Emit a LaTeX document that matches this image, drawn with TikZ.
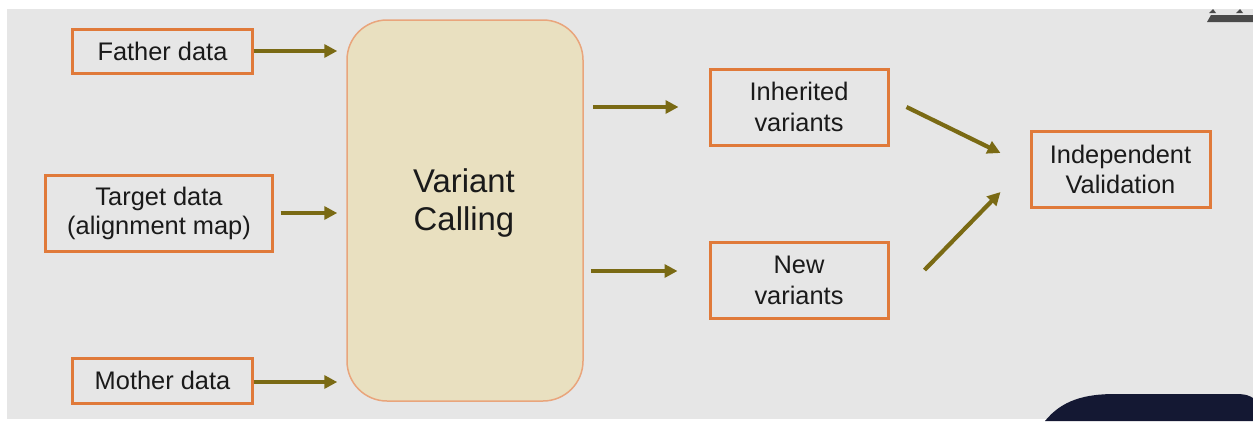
\documentclass[tikz,border=0pt]{standalone}
\usepackage{fontspec}
\setmainfont{Liberation Sans}
\usetikzlibrary{arrows.meta}
\definecolor{bggrey}{HTML}{E6E6E6}
\definecolor{boxline}{HTML}{E07A3A}
\definecolor{callfill}{HTML}{E9E0C0}
\definecolor{callline}{HTML}{E9A57C}
\definecolor{arrowol}{HTML}{7A6A14}
\definecolor{textdark}{HTML}{1A1A1A}
\definecolor{navy}{HTML}{141833}
\definecolor{logogrey}{HTML}{4A4A4A}
\tikzset{
  databox/.style={draw=boxline, line width=3bp, fill=bggrey, inner sep=0pt,
    align=center, text=textdark, font=\fontsize{25.5}{31}\selectfont},
  callbox/.style={draw=callline, line width=1.5bp, fill=callfill,
    rounded corners=40bp, inner sep=0pt},
  flow/.style={draw=arrowol, line width=4.2bp,
    -{Triangle[length=13bp,width=13bp]}},
}
\begin{document}
\begin{tikzpicture}[x=1bp,y=-1bp]
  \useasboundingbox (0,0) rectangle (1253,421);
  % page and slide background
  \fill[white] (0,0) rectangle (1253,421);
  \fill[bggrey] (7,9) rectangle (1253,419);

  % corner logo
  \fill[logogrey] (1207,22) -- (1211,15) -- (1253,15) -- (1253,22) -- cycle;
  \fill[logogrey] (1209,13) -- (1213,9) -- (1216,13) -- cycle;
  \fill[logogrey] (1236,13) -- (1240,9) -- (1243,13) -- cycle;

  % dark shape at the lower right
  \fill[navy] (1045,421) .. controls (1062,400) and (1085,394) .. (1115,394)
    -- (1236,394) .. controls (1246,394) and (1250,396) .. (1253,398)
    -- (1253,421) -- cycle;

  % central step
  \node[callbox, minimum width=236bp, minimum height=381bp] (vc) at (465,210.5) {};
  \node[text=textdark, align=center, inner sep=0pt,
        font=\fontsize{33}{39}\selectfont] (vctext) at (464,203) {Variant\\Calling};

  % inputs
  \node[databox, minimum width=179bp, minimum height=44bp] (father) at (162.5,51) {Father data};
  \node[databox, minimum width=226bp, minimum height=76bp,
        font=\fontsize{25.5}{29}\selectfont] (target) at (159,213) {Target data\\(alignment map)};
  \node[databox, minimum width=179bp, minimum height=45bp] (mother) at (162.5,380.5) {Mother data};

  % outputs
  \node[databox, minimum width=178bp, minimum height=76bp] (inh) at (799,107) {Inherited\\variants};
  \node[databox, minimum width=178bp, minimum height=76bp] (new) at (799,280) {New\\variants};
  \node[databox, minimum width=179bp, minimum height=76bp,
        font=\fontsize{25.5}{30}\selectfont] (ind) at (1120.5,169) {Independent\\Validation};

  % connectors
  \draw[flow, shorten >=9bp] (father.east) -- (vc.west |- father.east);
  \draw[flow, shorten <=7bp, shorten >=9bp] (target.east) -- (vc.west |- target.east);
  \draw[flow, shorten >=9bp] ([shift={(0,1.5)}]mother.east) -- ([shift={(0,1.5)}]vc.west |- mother.east);
  \draw[flow, shorten <=9bp, shorten >=30bp] (vc.east |- inh.west) -- (inh.west);
  \draw[flow, shorten <=7bp, shorten >=31bp] ([shift={(0,-9)}]vc.east |- new.west) -- ([shift={(0,-9)}]new.west);
  \draw[flow] ([shift={(17,0)}]inh.east) -- ([shift={(-29,-16)}]ind.west);
  \draw[flow] ([shift={(35,-10)}]new.east) -- ([shift={(-29,23)}]ind.west);
\end{tikzpicture}
\end{document}
